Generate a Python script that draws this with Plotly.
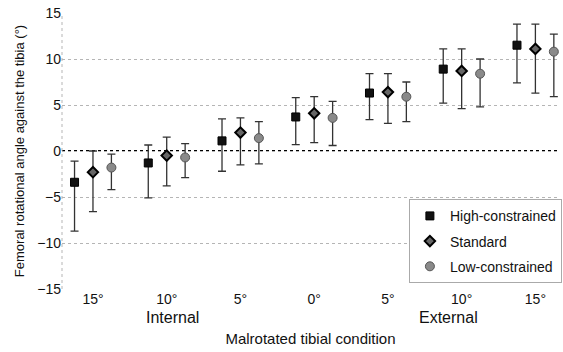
import plotly.graph_objects as go

conditions = ["15°", "10°", "5°", "0°", "5°", "10°", "15°"]

high_mean = [-3.4, -1.3, 1.1, 3.7, 6.3, 8.9, 11.5]
high_up = [-1.1, 0.65, 3.5, 5.8, 8.4, 11.1, 13.8]
high_lo = [-8.7, -5.1, -2.2, 0.7, 3.4, 5.2, 7.4]

std_mean = [-2.3, -0.5, 2.0, 4.1, 6.4, 8.7, 11.1]
std_up = [0.0, 1.5, 3.6, 5.9, 8.4, 11.1, 13.8]
std_lo = [-6.6, -3.8, -1.5, 0.9, 3.0, 4.6, 6.3]

low_mean = [-1.8, -0.7, 1.4, 3.6, 5.9, 8.4, 10.8]
low_up = [-0.35, 0.8, 3.2, 5.4, 7.5, 10.0, 12.7]
low_lo = [-4.2, -2.9, -1.4, 0.6, 3.2, 4.8, 5.9]

series = [
    ("High-constrained", high_mean, high_up, high_lo, -0.25,
     dict(symbol="square", size=8, color="#111111", line=dict(color="#000000", width=1))),
    ("Standard", std_mean, std_up, std_lo, 0.0,
     dict(symbol="diamond", size=8, color="#666666", line=dict(color="#000000", width=2))),
    ("Low-constrained", low_mean, low_up, low_lo, 0.25,
     dict(symbol="circle", size=9, color="#8a8a8a", line=dict(color="#555555", width=1))),
]

fig = go.Figure()
idx = list(range(len(conditions)))
for name, m, up, lo, off, mk in series:
    fig.add_trace(go.Scatter(
        x=[i + off for i in idx], y=m, mode="markers", name=name,
        legendgroup=name, marker=mk,
        error_y=dict(type="data", symmetric=False,
                     array=[u - v for u, v in zip(up, m)],
                     arrayminus=[v - l for v, l in zip(m, lo)],
                     color="#333333", thickness=1.3, width=4),
    ))

font_family = "Liberation Sans, Arial, sans-serif"

fig.update_layout(
    width=563, height=352,
    margin=dict(l=62, r=1, t=13, b=63),
    paper_bgcolor="white", plot_bgcolor="white",
    font=dict(family=font_family, size=13, color="#111111"),
    showlegend=True,
    legend=dict(x=0.698, y=0.325, xanchor="left", yanchor="top",
                bgcolor="white", bordercolor="#aaaaaa", borderwidth=1,
                font=dict(size=14), tracegroupgap=4),
    xaxis=dict(range=[-0.42, 6.32], tickvals=idx, ticktext=conditions,
               showgrid=False, zeroline=False, showline=False, ticks="",
               tickfont=dict(size=14),
               title=dict(text="Malrotated tibial condition", font=dict(size=15), standoff=27)),
    yaxis=dict(range=[-15, 15], tickvals=[-15, -10, -5, 0, 5, 10, 15],
               ticktext=["\u221215", "\u221210", "\u22125", "0", "5", "10", "15"],
               showgrid=True, gridcolor="#b5b5b5", griddash="dot", gridwidth=1,
               zeroline=False, showline=False, ticks="", tickfont=dict(size=14),
               title=dict(text="Femoral rotational angle against the tibia (°)",
                          font=dict(size=13), standoff=9)),
    shapes=[
        dict(type="line", xref="paper", yref="y", x0=0, x1=1, y0=0, y1=0,
             line=dict(color="#000000", width=2, dash="dot"), layer="below"),
        dict(type="line", xref="paper", yref="paper", x0=0, x1=0, y0=0, y1=1,
             line=dict(color="#b5b5b5", width=1, dash="dot"), layer="below"),
    ],
    annotations=[
        dict(text="Internal", x=1.08, y=-0.065, xref="x", yref="paper",
             yanchor="top", showarrow=False, font=dict(size=16)),
        dict(text="External", x=4.82, y=-0.065, xref="x", yref="paper",
             yanchor="top", showarrow=False, font=dict(size=16)),
    ],
)

fig.write_html("out.html", config={"displayModeBar": False},
               post_script="document.body.style.margin='0';")
